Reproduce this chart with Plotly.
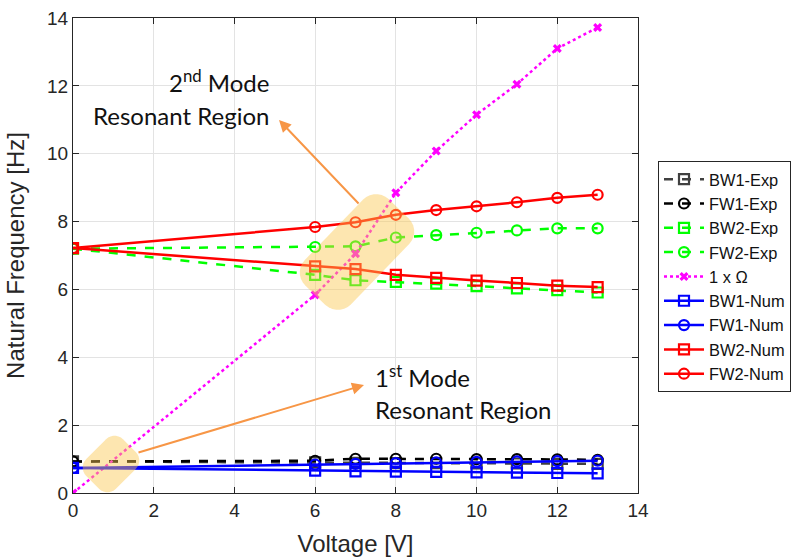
import numpy as np
import plotly.graph_objects as go

# ---------------- data ----------------
volt = [0, 6, 7, 8, 9, 10, 11, 12, 13]

bw1_exp = [0.93, 0.90, 0.89, 0.88, 0.88, 0.87, 0.87, 0.86, 0.86]
fw1_exp = [0.93, 0.95, 1.01, 1.01, 1.01, 1.00, 1.00, 0.99, 0.98]
bw2_exp = [7.20, 6.43, 6.27, 6.22, 6.17, 6.10, 6.03, 5.98, 5.91]
fw2_exp = [7.20, 7.25, 7.27, 7.53, 7.60, 7.67, 7.74, 7.80, 7.80]
omega = [0.0, 5.84, 7.05, 8.85, 10.08, 11.15, 12.05, 13.10, 13.72]
bw1_num = [0.74, 0.66, 0.64, 0.63, 0.62, 0.61, 0.60, 0.59, 0.58]
fw1_num = [0.74, 0.84, 0.86, 0.88, 0.90, 0.92, 0.93, 0.94, 0.95]
bw2_num = [7.22, 6.68, 6.60, 6.43, 6.34, 6.26, 6.19, 6.11, 6.07]
fw2_num = [7.22, 7.84, 7.98, 8.20, 8.34, 8.45, 8.57, 8.70, 8.79]

x_ticks = [0, 2, 4, 6, 8, 10, 12, 14]
y_ticks = [0, 2, 4, 6, 8, 10, 12, 14]

# ---------------- layout geometry ----------------
W, H = 804, 559
ML, MR, MT, MB = 73, 166, 18, 66
XR = (0, 14)
YR = (0, 14)
PW = W - ML - MR
PH = H - MT - MB

def px2data(px, py):
    x = XR[0] + (px - ML) / PW * (XR[1] - XR[0])
    y = YR[0] + (H - MB - py) / PH * (YR[1] - YR[0])
    return x, y

def rounded_rect_path(cx, cy, L, Wd, r, ang_deg, n=8):
    a = np.deg2rad(ang_deg)
    hx, hy = L / 2 - r, Wd / 2 - r
    pts = []
    for (sx, sy, start) in [(1, 1, 0), (-1, 1, 90), (-1, -1, 180), (1, -1, 270)]:
        for t in np.linspace(start, start + 90, n):
            tr = np.deg2rad(t)
            pts.append((sx * hx + r * np.cos(tr), sy * hy + r * np.sin(tr)))
    out = []
    for (lx, ly) in pts:
        rx = lx * np.cos(a) - ly * np.sin(a)
        ry = lx * np.sin(a) + ly * np.cos(a)
        out.append(px2data(cx + rx, cy - ry))
    return "M " + " L ".join(f"{x:.4f},{y:.4f}" for x, y in out) + " Z"

fig = go.Figure()

def add(name, y, color, symbol, dash, msize=10, width=2.5):
    fig.add_trace(go.Scatter(
        x=volt, y=y, name=name, mode="lines+markers",
        line=dict(color=color, width=width, dash=dash),
        marker=dict(symbol=symbol, size=msize, color=color,
                    line=dict(color=color, width=2.2)),
    ))

add("BW1-Exp", bw1_exp, "#404040", "square-open", "dash")
add("FW1-Exp", fw1_exp, "#000000", "circle-open", "dash")
add("BW2-Exp", bw2_exp, "#00FF00", "square-open", "dash")
add("FW2-Exp", fw2_exp, "#00FF00", "circle-open", "dash")
fig.add_trace(go.Scatter(
    x=volt, y=omega, name="1 x Ω", mode="lines+markers",
    line=dict(color="#FF00FF", width=2.5, dash="dot"),
    marker=dict(symbol="x", size=8, color="#FF00FF"),
))
add("BW1-Num", bw1_num, "#0000FF", "square-open", "solid")
add("FW1-Num", fw1_num, "#0000FF", "circle-open", "solid")
add("BW2-Num", bw2_num, "#FF0000", "square-open", "solid")
add("FW2-Num", fw2_num, "#FF0000", "circle-open", "solid")

hl = "rgba(250,200,80,0.45)"
fig.add_shape(type="path", xref="x", yref="y", layer="above",
              path=rounded_rect_path(357, 252, 120, 64, 18, 46),
              fillcolor=hl, line=dict(width=0))
fig.add_shape(type="path", xref="x", yref="y", layer="above",
              path=rounded_rect_path(111, 464, 52, 42, 12, 45),
              fillcolor=hl, line=dict(width=0))

arrow_col = "#F79646"
afont = dict(family="Lato, Open Sans, sans-serif", size=24, color="#111111")

hx, hy = px2data(279, 120)
fig.add_annotation(x=hx, y=hy, xref="x", yref="y", ax=81, ay=85, text="",
                   showarrow=True, arrowhead=2, arrowsize=1.2, arrowwidth=2,
                   arrowcolor=arrow_col)
hx, hy = px2data(364, 385)
fig.add_annotation(x=hx, y=hy, xref="x", yref="y", ax=-227, ay=68, text="",
                   showarrow=True, arrowhead=2, arrowsize=1.2, arrowwidth=2,
                   arrowcolor=arrow_col)

for txt, (px, py), anchor in [("2<sup>nd</sup> Mode", (271, 81), "right"),
                              ("Resonant Region", (271, 115), "right"),
                              ("1<sup>st</sup> Mode", (373, 376), "left"),
                              ("Resonant Region", (373, 409), "left")]:
    x, y = px2data(px, py)
    fig.add_annotation(x=x, y=y, xref="x", yref="y", text=txt,
                       showarrow=False, font=afont, xanchor=anchor,
                       yanchor="middle")

tfont = "Liberation Sans, Arial, sans-serif"
axis_common = dict(
    showgrid=True, gridcolor="#E3E3E3", gridwidth=1,
    showline=True, linecolor="#262626", linewidth=1, mirror="ticks",
    ticks="inside", ticklen=6, tickcolor="#262626",
    tickfont=dict(family=tfont, size=19, color="#262626"),
    zeroline=False, automargin=False,
)
fig.update_xaxes(range=list(XR), tickvals=x_ticks,
                 title=dict(text="Voltage [V]",
                            font=dict(family=tfont, size=24, color="#262626")),
                 **axis_common)
fig.update_yaxes(range=list(YR), tickvals=y_ticks,
                 title=dict(text="Natural Frequency [Hz]",
                            font=dict(family=tfont, size=24, color="#262626")),
                 **axis_common)

fig.update_layout(
    width=W, height=H,
    margin=dict(l=ML, r=MR, t=MT, b=MB),
    paper_bgcolor="white", plot_bgcolor="white",
    showlegend=True,
    legend=dict(x=(658 - ML) / PW, y=(H - MB - 161) / PH, xanchor="left", yanchor="top",
                bgcolor="white", bordercolor="#262626", borderwidth=1,
                font=dict(family=tfont, size=16.4, color="#111111"),
                itemwidth=40, tracegroupgap=0),
)

fig.write_html("out.html")
